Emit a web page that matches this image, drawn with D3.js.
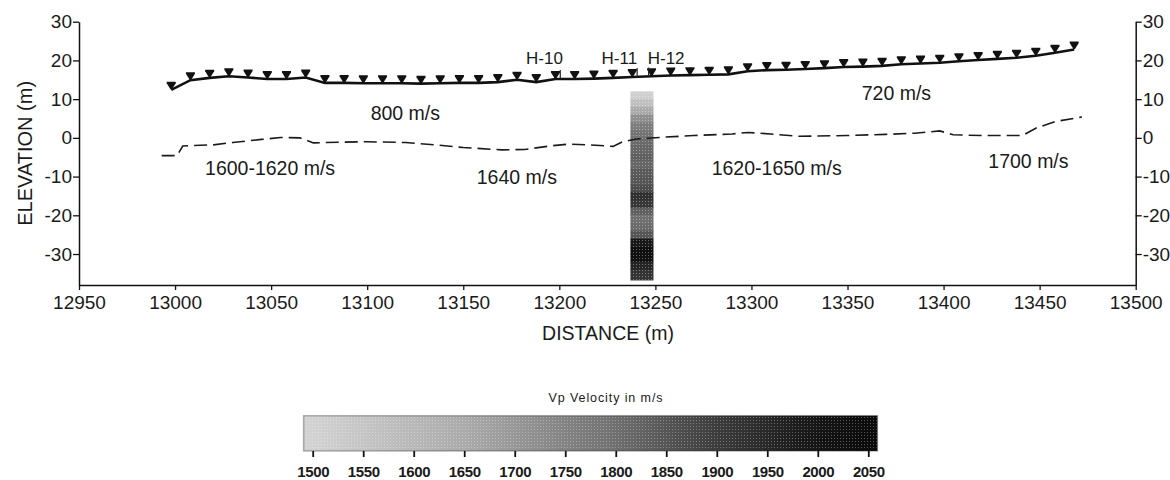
<!DOCTYPE html>
<html>
<head>
<meta charset="utf-8">
<script src="https://cdn.jsdelivr.net/npm/d3@7"></script>
<style>
body { margin: 0; background: #fff; }
text { font-family: Arial, "Liberation Sans", sans-serif; fill: #1a1a1a; }
</style>
</head>
<body>
<div id="chart"></div>
<script>
var width = 1170, height = 480;

// geophone stations (m) and ground surface elevation (m)
var stations = [12998, 13008, 13018, 13028, 13038, 13048, 13058, 13068, 13078, 13088,
  13098, 13108, 13118, 13128, 13138, 13148, 13158, 13168, 13178, 13188,
  13198, 13208, 13218, 13228, 13238, 13248, 13258, 13268, 13278, 13288,
  13298, 13308, 13318, 13328, 13338, 13348, 13358, 13368, 13378, 13388,
  13398, 13408, 13418, 13428, 13438, 13448, 13458, 13468];
var surface = [12.4, 14.9, 15.5, 15.9, 15.6, 15.2, 15.2, 15.6, 14.2, 14.2,
  14.1, 14.1, 14.1, 14.0, 14.1, 14.2, 14.2, 14.4, 15.0, 14.4,
  15.2, 15.2, 15.3, 15.5, 15.7, 15.9, 16.1, 16.2, 16.3, 16.4,
  17.2, 17.5, 17.6, 17.8, 18.0, 18.3, 18.4, 18.6, 19.0, 19.2,
  19.4, 19.8, 20.1, 20.4, 20.7, 21.2, 22.0, 22.8];

// refractor (dashed interface)
var refDist = [12993, 13001, 13004, 13020, 13030, 13045, 13055, 13065, 13072, 13078,
  13100, 13120, 13135, 13150, 13170, 13182, 13195, 13205, 13215, 13228,
  13233, 13240, 13255, 13270, 13290, 13298, 13310, 13325, 13350, 13370,
  13385, 13398, 13405, 13420, 13441, 13448, 13458, 13472];
var refElev = [-4.6, -4.6, -2.1, -1.8, -1.2, -0.4, 0.1, 0.0, -1.3, -1.2,
  -1.0, -1.2, -1.8, -2.5, -3.1, -3.0, -2.1, -1.6, -1.8, -2.2,
  -1.0, -0.3, 0.2, 0.6, 1.0, 1.4, 1.0, 0.4, 0.6, 0.9,
  1.2, 1.8, 0.8, 0.6, 0.6, 2.5, 4.2, 5.4];

// borehole velocity log
var logX = [13237, 13249];
var logTop = [12, 10, 8, 6, 4, 2, 0, -2, -4, -6, -8, -10,
  -12, -14, -16, -18, -20, -22, -24, -26, -28, -30, -32, -34];
var logVel = [1510, 1570, 1650, 1720, 1770, 1790, 1810, 1820, 1830, 1820, 1840, 1850,
  1870, 1930, 1910, 1830, 1800, 1810, 1850, 1990, 2030, 2020, 1960, 1920];
var logBottom = -36.7;

var holes = ['H-10', 'H-11', 'H-12'];
var holeDist = [13200.5, 13240.5, 13246.5];
var holeLabelDist = [13182.7, 13222, 13246];

var zoneText = ['800 m/s', '720 m/s', '1600-1620 m/s', '1640 m/s', '1620-1650 m/s', '1700 m/s'];
var zoneDist = [13101.8, 13357.4, 13015.6, 13157, 13279.3, 13423.3];
var zoneElev = [4.6, 9.8, -9.7, -11.9, -9.6, -7.8];

var distTicks = d3.range(12950, 13501, 50);
var elevTicks = [30, 20, 10, 0, -10, -20, -30];
var velTicks = d3.range(1500, 2051, 50);
var velRange = [1491, 2059];

var svg = d3.select('#chart').append('svg')
  .attr('width', width)
  .attr('height', height);

var x = d3.scaleLinear().domain([12950, 13500]).range([79, 1135.7]);
var y = d3.scaleLinear().domain([-38, 30]).range([285, 21.7]);

var grey = d3.scaleLinear()
  .domain([1500, 1650, 1800, 1900, 2000, 2060])
  .range(['#d2d2d2', '#ababab', '#707070', '#3c3c3c', '#151515', '#0a0a0a'])
  .clamp(true);

// stipple texture
var defs = svg.append('defs');
var pat = defs.append('pattern').attr('id', 'dots')
  .attr('width', 3).attr('height', 3).attr('patternUnits', 'userSpaceOnUse');
pat.append('rect').attr('width', 1).attr('height', 1).attr('fill', '#fff');

// velocity log column
var cells = logTop.map(function(t, i) {
  return {top: t, bottom: i < logTop.length - 1 ? logTop[i + 1] : logBottom, v: logVel[i]};
});
svg.append('g').selectAll('rect')
  .data(cells).enter().append('rect')
  .attr('x', x(logX[0]))
  .attr('width', x(logX[1]) - x(logX[0]))
  .attr('y', function(d) { return y(d.top); })
  .attr('height', function(d) { return y(d.bottom) - y(d.top) + 0.5; })
  .attr('fill', function(d) { return grey(d.v); });
svg.append('rect')
  .attr('x', x(logX[0])).attr('width', x(logX[1]) - x(logX[0]))
  .attr('y', y(logTop[0])).attr('height', y(logBottom) - y(logTop[0]))
  .attr('fill', 'url(#dots)').attr('opacity', 0.35);

// axes
var gLeft = svg.append('g').attr('transform', 'translate(' + x(12950) + ',0)')
  .call(d3.axisLeft(y).tickValues(elevTicks).tickSize(6).tickSizeOuter(0).tickPadding(1));
var gRight = svg.append('g').attr('transform', 'translate(' + x(13500) + ',0)')
  .call(d3.axisRight(y).tickValues(elevTicks).tickSize(6).tickSizeOuter(0).tickPadding(1));
var gBottom = svg.append('g').attr('transform', 'translate(0,' + y(-38) + ')')
  .call(d3.axisBottom(x).tickValues(distTicks).tickFormat(d3.format('d')).tickSize(5).tickSizeOuter(0).tickPadding(6));
[gLeft, gRight, gBottom].forEach(function(g) {
  g.select('.domain').attr('stroke', '#111').attr('stroke-width', 1.5);
  g.selectAll('.tick line').attr('stroke', '#111').attr('stroke-width', 1.3);
  g.selectAll('.tick text').attr('font-size', 19).attr('fill', '#1a1a1a')
    .style('font-family', 'Arial, "Liberation Sans", sans-serif');
});
gLeft.selectAll('.tick text').text(function(d) { return d < 0 ? '-' + Math.abs(d) : d; });
gRight.selectAll('.tick text').text(function(d) { return d < 0 ? '-' + Math.abs(d) : d; });

svg.append('text')
  .attr('transform', 'translate(31.5,' + ((21.7 + 285) / 2) + ') rotate(-90)')
  .attr('text-anchor', 'middle')
  .attr('font-size', 20)
  .text('ELEVATION (m)');
svg.append('text')
  .attr('x', 608).attr('y', 340)
  .attr('text-anchor', 'middle')
  .attr('font-size', 19.5)
  .text('DISTANCE (m)');

// refractor
var refPts = refDist.map(function(d, i) { return [d, refElev[i]]; });
svg.append('path')
  .datum(refPts)
  .attr('d', d3.line().x(function(d) { return x(d[0]); }).y(function(d) { return y(d[1]); }))
  .attr('fill', 'none')
  .attr('stroke', '#1a1a1a')
  .attr('stroke-width', 1.6)
  .attr('stroke-dasharray', '13,6');

// ground surface
var surfPts = stations.map(function(d, i) { return [d, surface[i]]; });
svg.append('path')
  .datum(surfPts)
  .attr('d', d3.line().x(function(d) { return x(d[0]); }).y(function(d) { return y(d[1]); }))
  .attr('fill', 'none')
  .attr('stroke', '#111')
  .attr('stroke-width', 2.6);

// geophones
svg.append('g').selectAll('path')
  .data(surfPts).enter().append('path')
  .attr('transform', function(d) { return 'translate(' + x(d[0]) + ',' + (y(d[1]) - 0.5) + ')'; })
  .attr('d', 'M-4.5,-7.5 L4.5,-7.5 L4.5,-6 L0.8,0 L-0.8,0 L-4.5,-6 Z')
  .attr('fill', '#111');

// boreholes
var surfAt = function(d) {
  var i = d3.bisectLeft(stations, d);
  var t = (d - stations[i - 1]) / (stations[i] - stations[i - 1]);
  return surface[i - 1] + t * (surface[i] - surface[i - 1]);
};
svg.append('g').selectAll('line')
  .data(holeDist).enter().append('line')
  .attr('x1', function(d) { return x(d); }).attr('x2', function(d) { return x(d); })
  .attr('y1', function(d) { return y(surfAt(d)); })
  .attr('y2', function(d) { return y(surfAt(d) + 2.3); })
  .attr('stroke', '#222').attr('stroke-width', 1.2);
svg.append('g').selectAll('text')
  .data(holes).enter().append('text')
  .attr('x', function(d, i) { return x(holeLabelDist[i]); })
  .attr('y', y(19.1))
  .attr('font-size', 17)
  .text(function(d) { return d; });

// layer velocities
svg.append('g').selectAll('text')
  .data(zoneText).enter().append('text')
  .attr('x', function(d, i) { return x(zoneDist[i]); })
  .attr('y', function(d, i) { return y(zoneElev[i]); })
  .attr('font-size', 19.5)
  .text(function(d) { return d; });

// colour legend
var lx = d3.scaleLinear().domain([1500, 2050]).range([312.7, 868.3]);
var grad = defs.append('linearGradient').attr('id', 'vgrad')
  .attr('x1', 0).attr('x2', 1).attr('y1', 0).attr('y2', 0);
grad.selectAll('stop')
  .data(d3.range(velRange[0], velRange[1] + 1, 10)).enter().append('stop')
  .attr('offset', function(d) { return (d - velRange[0]) / (velRange[1] - velRange[0]); })
  .attr('stop-color', function(d) { return grey(d); });

var legTop = 415.7, legH = 35.3;
svg.append('rect')
  .attr('x', lx(velRange[0])).attr('y', legTop)
  .attr('width', lx(velRange[1]) - lx(velRange[0])).attr('height', legH)
  .attr('fill', 'url(#vgrad)');
svg.append('rect')
  .attr('x', lx(velRange[0])).attr('y', legTop)
  .attr('width', lx(velRange[1]) - lx(velRange[0])).attr('height', legH)
  .attr('fill', 'url(#dots)').attr('opacity', 0.3)
  .attr('stroke', '#111').attr('stroke-width', 1.5);

var gLeg = svg.append('g').attr('transform', 'translate(0,' + (legTop + legH) + ')')
  .call(d3.axisBottom(lx).tickValues(velTicks).tickFormat(d3.format('d'))
    .tickSize(6).tickPadding(9).tickSizeOuter(0));
gLeg.select('.domain').remove();
gLeg.selectAll('.tick line').attr('stroke', '#111').attr('stroke-width', 1.8);
gLeg.selectAll('.tick text').attr('font-size', 15).attr('font-weight', 'bold')
  .attr('letter-spacing', -0.4)
  .attr('fill', '#1a1a1a').style('font-family', 'Arial, "Liberation Sans", sans-serif');

svg.append('text')
  .attr('x', 606).attr('y', 402)
  .attr('text-anchor', 'middle')
  .attr('font-size', 12.5)
  .attr('letter-spacing', 0.9)
  .text('Vp Velocity in m/s');
</script>
</body>
</html>
